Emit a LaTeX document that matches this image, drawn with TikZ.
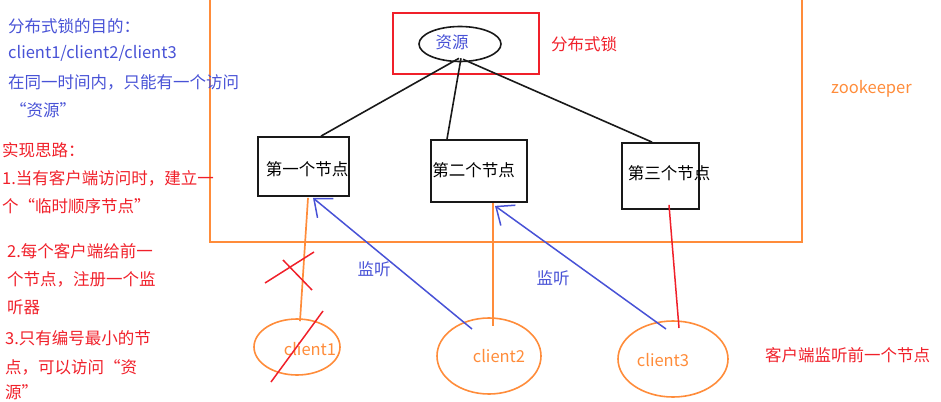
\documentclass[tikz,border=0pt]{standalone}
\usepackage{fontspec}
\setmainfont{Noto Sans CJK SC}
\usetikzlibrary{arrows.meta,shapes.geometric}
\definecolor{tblue}{RGB}{72,82,214}
\definecolor{tred}{RGB}{240,32,42}
\definecolor{torange}{RGB}{255,140,58}
\definecolor{tblack}{RGB}{25,25,25}
\begin{document}
\begin{tikzpicture}[x=1pt,y=-1pt,
  txt/.style={inner sep=0pt,font=\fontsize{16.5}{20}\selectfont},
  bluetxt/.style={txt,text=tblue,anchor=west},
  redtxt/.style={txt,text=tred,anchor=west},
  nodebox/.style={draw=tblack,line width=1.8pt,minimum width=#1,inner sep=0pt},
  client/.style={ellipse,draw=torange,line width=1.6pt,inner sep=0pt},
  link/.style={draw=tblack,line width=1.6pt},
  olink/.style={draw=torange,line width=1.7pt},
  blink/.style={draw=tblue,line width=1.5pt,-{Straight Barb[length=15pt,width=25pt,line width=1.5pt]}},
  cross/.style={draw=tred,line width=1.5pt}]
\useasboundingbox (0,0) rectangle (941,401);
% zookeeper frame
\draw[torange,line width=1.7pt] (210,-3) -- (210,242) -- (802,242) -- (802,-3);
\node[txt,text=torange,anchor=west] (zk) at (831,89) {zookeeper};
% distributed lock box
\draw[tred,line width=1.5pt] (393,13) rectangle (539,74);
\node[redtxt] (lock) at (551,44) {分布式锁};
\node[ellipse,draw=tblack,line width=1.6pt,minimum width=82pt,minimum height=35pt,inner sep=0pt] (res) at (460,44) {};
\node[txt,text=tblue] (restxt) at (452,42) {资源};
% node boxes
\node[nodebox=91pt,minimum height=59pt] (b1) at (303.5,166.5) {};
\node[txt] (b1t) at (307,169) {第一个节点};
\node[nodebox=96pt,minimum height=62pt] (b2) at (479,171) {};
\node[txt] (b2t) at (473.5,170) {第二个节点};
\node[nodebox=77pt,minimum height=66pt] (b3) at (660.5,176) {};
\node[txt] (b3t) at (669,173) {第三个节点};
% links resource -> boxes
\draw[link] ([shift={(-1,-4)}]res.south) -- ([shift={(17.5,0)}]b1.north);
\draw[link] ([shift={(1,-4)}]res.south) -- ([shift={(-32,0)}]b2.north);
\draw[link] ([shift={(3,-3)}]res.south) -- ([shift={(-8.5,0)}]b3.north);
% clients
\node[client,minimum width=86pt,minimum height=56pt] (c1) at (297,347) {};
\node[txt,text=torange] (c1t) at (310,349) {client1};
\node[client,minimum width=104pt,minimum height=76pt] (c2) at (489,356) {};
\node[txt,text=torange] (c2t) at (499,356) {client2};
\node[client,minimum width=110pt,minimum height=76pt] (c3) at (673,359) {};
\node[txt,text=torange] (c3t) at (663,360) {client3};
% client -> node links
\draw[olink] ([shift={(4.5,1)}]b1.south) -- ([shift={(3,3)}]c1.north);
\draw[olink] ([shift={(14,0)}]b2.south) -- ([shift={(4,-30)}]c2.center);
\draw[tred,line width=1.5pt] ([shift={(8.5,-5)}]b3.south) -- ([shift={(6,-31)}]c3.center);
% watch arrows
\draw[blink] ([shift={(-17,-27)}]c2.center) -- ([shift={(9.5,1)}]b1.south);
\draw[blink] ([shift={(-7,-30)}]c3.center) -- ([shift={(16,3)}]b2.south);
\node[txt,text=tblue] (w1) at (374,269) {监听};
\node[txt,text=tblue] (w2) at (553,278) {监听};
% crosses
\draw[cross] (265,283) -- (314,252);
\draw[cross] (283,260) -- (312,290);
\draw[cross] (323,311) -- (271,382);
\node[redtxt] (note) at (765,355) {客户端监听前一个节点};
% left texts
\node[bluetxt] (p1) at (8,26) {分布式锁的目的：};
\node[bluetxt] (p2) at (8,53) {client1/client2/client3};
\node[bluetxt] (p3) at (8,82) {在同一时间内，只能有一个访问};
\node[bluetxt] (p4) at (10,110) {“资源”};
\node[redtxt] (r1) at (2,150) {实现思路：};
\node[redtxt] (r2) at (2,178) {1.当有客户端访问时，建立一};
\node[redtxt] (r3) at (2,206) {个“临时顺序节点”};
\node[redtxt] (r4) at (7,251) {2.每个客户端给前一};
\node[redtxt] (r5) at (7,279) {个节点，注册一个监};
\node[redtxt] (r6) at (7,307) {听器};
\node[redtxt] (r7) at (5,338) {3.只有编号最小的节};
\node[redtxt] (r8) at (5,367) {点，可以访问“资};
\node[redtxt] (r9) at (5,392) {源”};
\end{tikzpicture}
\end{document}
